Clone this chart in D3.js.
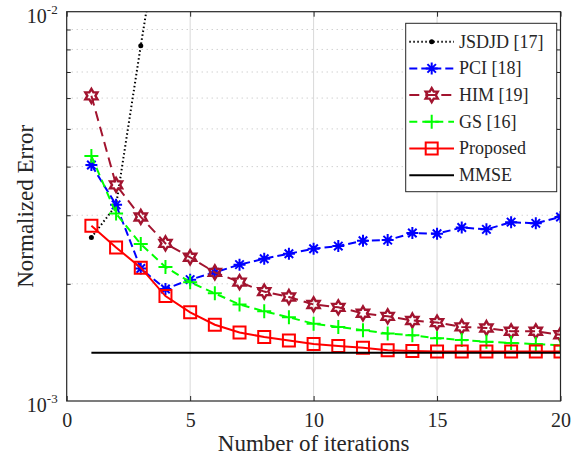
<!DOCTYPE html>
<html>
<head>
<meta charset="utf-8">
<script src="https://cdn.jsdelivr.net/npm/d3@7"></script>
<style>
  body { margin: 0; background: #fff; }
  text { font-family: "Liberation Serif", "Times New Roman", serif; fill: #262626; }
</style>
</head>
<body>
<div id="chart"></div>
<script>
const iterations = d3.range(1, 21);
const jsdjdIter = [1, 2, 3, 4];
const jsdjd = [2.63e-3, 3.18e-3, 8.18e-3, 2.0e-2];
const pci = [4.04e-3, 3.19e-3, 2.19e-3, 1.94e-3, 2.05e-3, 2.14e-3, 2.24e-3, 2.32e-3, 2.39e-3, 2.46e-3,
             2.50e-3, 2.58e-3, 2.59e-3, 2.70e-3, 2.69e-3, 2.79e-3, 2.76e-3, 2.88e-3, 2.86e-3, 2.97e-3];
const him = [6.08e-3, 3.59e-3, 2.97e-3, 2.54e-3, 2.34e-3, 2.14e-3, 2.02e-3, 1.91e-3, 1.85e-3, 1.77e-3,
             1.74e-3, 1.68e-3, 1.65e-3, 1.61e-3, 1.59e-3, 1.55e-3, 1.54e-3, 1.51e-3, 1.51e-3, 1.48e-3];
const gs = [4.26e-3, 3.03e-3, 2.53e-3, 2.21e-3, 2.02e-3, 1.89e-3, 1.77e-3, 1.70e-3, 1.64e-3, 1.58e-3,
            1.55e-3, 1.52e-3, 1.49e-3, 1.475e-3, 1.45e-3, 1.435e-3, 1.42e-3, 1.41e-3, 1.40e-3, 1.39e-3];
const proposed = [2.82e-3, 2.48e-3, 2.20e-3, 1.86e-3, 1.69e-3, 1.57e-3, 1.50e-3, 1.46e-3, 1.43e-3, 1.40e-3,
                  1.385e-3, 1.37e-3, 1.35e-3, 1.345e-3, 1.34e-3, 1.34e-3, 1.34e-3, 1.34e-3, 1.34e-3, 1.34e-3];
const mmseIter = [1, 20];
const mmse = [1.33e-3, 1.33e-3];
const xTicks = [0, 5, 10, 15, 20];
const yMinor = [2e-3, 3e-3, 4e-3, 5e-3, 6e-3, 7e-3, 8e-3, 9e-3];
const yMajor = [{v: 1e-2, exp: "-2"}, {v: 1e-3, exp: "-3"}];

const W = 581, H = 459;
const margin = {top: 11.7, right: 20.5, bottom: 58, left: 66.7},
    width = W - margin.left - margin.right,
    height = H - margin.top - margin.bottom;

const root = d3.select("#chart").append("svg")
    .attr("width", W)
    .attr("height", H);

const svg = root.append("g")
    .attr("transform", `translate(${margin.left},${margin.top})`);

const x = d3.scaleLinear().domain([0, 20]).range([0, width]);
const y = d3.scaleLog().domain([1e-3, 1e-2]).range([height, 0]);

root.append("defs").append("clipPath").attr("id", "plotclip")
    .append("rect").attr("width", width).attr("height", height);

// grid
svg.selectAll(".vgrid")
    .data(xTicks.slice(1, -1))
    .enter().append("line")
    .attr("x1", d => x(d)).attr("x2", d => x(d))
    .attr("y1", 0).attr("y2", height)
    .attr("stroke", "#d9d9d9").attr("stroke-width", 1);

svg.selectAll(".hgrid")
    .data(yMinor)
    .enter().append("line")
    .attr("x1", 0).attr("x2", width)
    .attr("y1", d => y(d)).attr("y2", d => y(d))
    .attr("stroke", "#bdbdbd").attr("stroke-width", 1)
    .attr("stroke-dasharray", "1,4");

// axes (ticks pointing inward)
svg.append("g")
    .attr("transform", `translate(0,${height})`)
    .call(d3.axisBottom(x).tickValues(xTicks).tickSizeInner(-5).tickSizeOuter(0).tickPadding(12))
    .call(g => g.select(".domain").remove())
    .call(g => g.selectAll("line").attr("stroke", "#262626"))
    .call(g => g.selectAll("text").attr("font-size", 20).attr("font-family", "Liberation Serif").attr("fill", "#262626"));

svg.append("g")
    .call(d3.axisTop(x).tickValues(xTicks).tickSizeInner(-5).tickSizeOuter(0).tickFormat(""))
    .call(g => g.select(".domain").remove())
    .call(g => g.selectAll("line").attr("stroke", "#262626"));

svg.append("g")
    .call(d3.axisLeft(y).tickValues(yMinor).tickSizeInner(-4).tickSizeOuter(0).tickFormat(""))
    .call(g => g.select(".domain").remove())
    .call(g => g.selectAll("line").attr("stroke", "#262626"));

svg.append("g")
    .attr("transform", `translate(${width},0)`)
    .call(d3.axisRight(y).tickValues(yMinor).tickSizeInner(-4).tickSizeOuter(0).tickFormat(""))
    .call(g => g.select(".domain").remove())
    .call(g => g.selectAll("line").attr("stroke", "#262626"));

yMajor.forEach(t => {
    const lab = svg.append("text")
        .attr("x", -9)
        .attr("y", y(t.v) + 11.5)
        .attr("text-anchor", "end")
        .attr("font-size", 20);
    lab.append("tspan").text("10");
    lab.append("tspan").attr("font-size", 13).attr("dy", -9).text(t.exp);
});

// series
const series = [
    {name: "JSDJD [17]", xs: jsdjdIter, ys: jsdjd, color: "#000000", dash: "1.5,2.5", width: 2, marker: "dot"},
    {name: "PCI [18]", xs: iterations, ys: pci, color: "#0000ff", dash: "8,4", width: 2, marker: "asterisk"},
    {name: "HIM [19]", xs: iterations, ys: him, color: "#a2142f", dash: "10,6", width: 2, marker: "hexagram"},
    {name: "GS [16]", xs: iterations, ys: gs, color: "#00ff00", dash: "8,5", width: 2, marker: "plus"},
    {name: "Proposed", xs: iterations, ys: proposed, color: "#ff0000", dash: null, width: 2, marker: "square"},
    {name: "MMSE", xs: mmseIter, ys: mmse, color: "#000000", dash: null, width: 2, marker: null}
];

function markerPath(type) {
    if (type === "asterisk") {
        const r = 6, q = r * Math.SQRT1_2;
        return `M${-r},0L${r},0M0,${-r}L0,${r}M${-q},${-q}L${q},${q}M${-q},${q}L${q},${-q}`;
    }
    if (type === "hexagram") {
        const R = 7, r = R / Math.sqrt(3);
        const pts = d3.range(12).map(i => {
            const a = -Math.PI / 2 + i * Math.PI / 6;
            const rr = i % 2 === 0 ? R : r;
            return [rr * Math.cos(a), rr * Math.sin(a)];
        });
        return "M" + pts.map(p => p.join(",")).join("L") + "Z";
    }
    if (type === "plus") return "M-7,0L7,0M0,-7L0,7";
    if (type === "square") return "M-6,-6L6,-6L6,6L-6,6Z";
    return null;
}

function drawMarker(g, type, color) {
    if (type === "dot") {
        g.append("circle").attr("r", 2.5).attr("fill", color);
    } else if (type) {
        g.append("path")
            .attr("d", markerPath(type))
            .attr("fill", "none")
            .attr("stroke", color)
            .attr("stroke-width", type === "hexagram" ? 2.4 : 2);
    }
}

const plot = svg.append("g").attr("clip-path", "url(#plotclip)");
const line = d3.line().x(d => x(d[0])).y(d => y(d[1]));

series.forEach(s => {
    const pts = s.xs.map((v, i) => [v, s.ys[i]]);
    plot.append("path")
        .datum(pts)
        .attr("fill", "none")
        .attr("stroke", s.color)
        .attr("stroke-width", s.width)
        .attr("stroke-dasharray", s.dash)
        .attr("d", line);
    if (s.marker) {
        pts.forEach(p => {
            const m = plot.append("g").attr("transform", `translate(${x(p[0])},${y(p[1])})`);
            drawMarker(m, s.marker, s.color);
        });
    }
});

// box
svg.append("rect")
    .attr("width", width).attr("height", height)
    .attr("fill", "none").attr("stroke", "#262626").attr("stroke-width", 1.2);

// axis titles
svg.append("text")
    .attr("x", width / 2)
    .attr("y", height + 50)
    .attr("text-anchor", "middle")
    .attr("font-size", 23)
    .text("Number of iterations");

svg.append("text")
    .attr("transform", "rotate(-90)")
    .attr("x", -height / 2)
    .attr("y", 25 - margin.left + 8)
    .attr("text-anchor", "middle")
    .attr("font-size", 23)
    .text("Normalized Error");

// legend
const legend = svg.append("g")
    .attr("transform", `translate(${405.7 - margin.left},${23.3 - margin.top})`);

legend.append("rect")
    .attr("width", 151).attr("height", 168.4)
    .attr("fill", "#fff").attr("stroke", "#262626").attr("stroke-width", 1);

series.forEach((s, i) => {
    const ly = 18.4 + i * 26.7;
    legend.append("line")
        .attr("x1", 3.6).attr("x2", 48.3)
        .attr("y1", ly).attr("y2", ly)
        .attr("stroke", s.color).attr("stroke-width", s.width)
        .attr("stroke-dasharray", s.dash);
    if (s.marker) {
        const m = legend.append("g").attr("transform", `translate(26,${ly})`);
        drawMarker(m, s.marker, s.color);
    }
    legend.append("text")
        .attr("x", 53.3).attr("y", ly + 6)
        .attr("font-size", 18)
        .text(s.name);
});
</script>
</body>
</html>
